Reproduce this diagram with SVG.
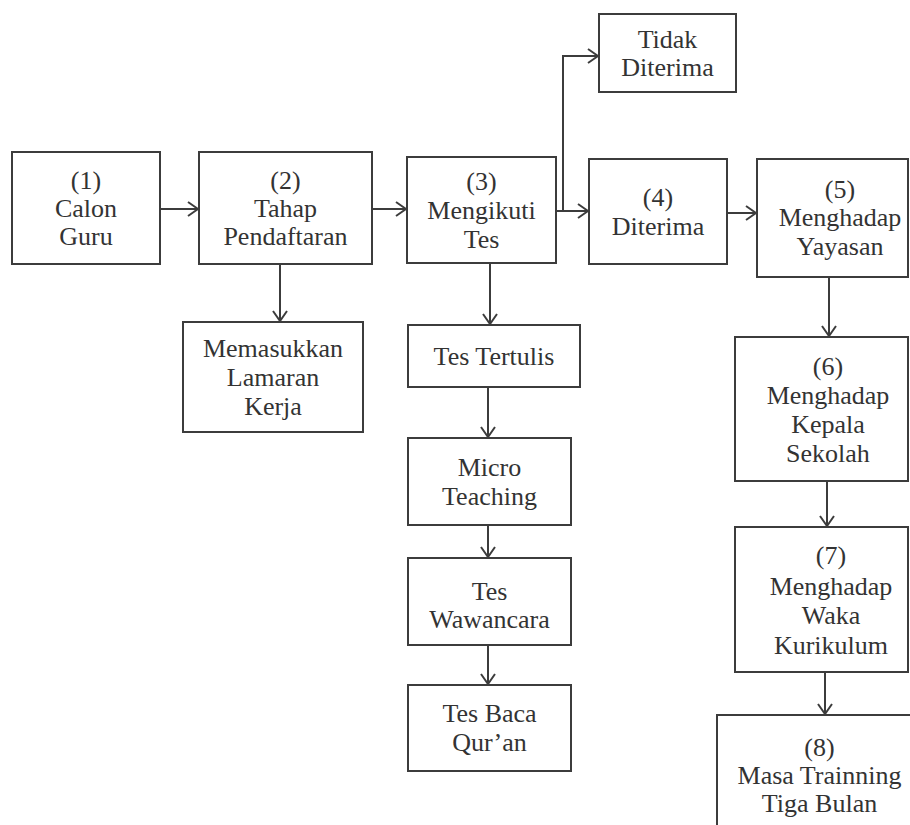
<svg xmlns="http://www.w3.org/2000/svg" width="910" height="825" viewBox="0 0 910 825">
<style>
.box{fill:#fff;stroke:#3c3c3c;stroke-width:2}
.t{font-family:"Liberation Serif","Times New Roman",serif;font-size:26px;fill:#333;text-anchor:middle}
.c{fill:none;stroke:#3c3c3c;stroke-width:2}
</style>
<defs>
<marker id="ah" viewBox="0 0 12 16" markerWidth="12" markerHeight="16" refX="11" refY="8" orient="auto" markerUnits="userSpaceOnUse">
<path d="M1,1 L11,8 L1,15" fill="none" stroke="#3c3c3c" stroke-width="2"/>
</marker>
</defs>
<rect width="910" height="825" fill="#fff"/>
<g id="connectors">
<path class="c" d="M160,209 H198" marker-end="url(#ah)"/>
<path class="c" d="M372,209 H406" marker-end="url(#ah)"/>
<path class="c" d="M556,211 H588" marker-end="url(#ah)"/>
<path class="c" d="M563,211 V56 H598" marker-end="url(#ah)"/>
<path class="c" d="M727,213 H756" marker-end="url(#ah)"/>
<path class="c" d="M280,264 V321" marker-end="url(#ah)"/>
<path class="c" d="M490,263 V324" marker-end="url(#ah)"/>
<path class="c" d="M488,387 V437" marker-end="url(#ah)"/>
<path class="c" d="M488,525 V557" marker-end="url(#ah)"/>
<path class="c" d="M488,645 V684" marker-end="url(#ah)"/>
<path class="c" d="M829,277 V336" marker-end="url(#ah)"/>
<path class="c" d="M827,481 V526" marker-end="url(#ah)"/>
<path class="c" d="M825,672 V714" marker-end="url(#ah)"/>
</g>
<g id="n1"><rect class="box" x="12" y="152" width="148" height="112"/>
<text class="t" x="86" y="189">(1)</text><text class="t" x="86" y="217">Calon</text><text class="t" x="86" y="245">Guru</text></g>
<g id="n2"><rect class="box" x="199" y="152" width="173" height="112"/>
<text class="t" x="285.5" y="189">(2)</text><text class="t" x="285.5" y="217">Tahap</text><text class="t" x="285.5" y="245">Pendaftaran</text></g>
<g id="n2a"><rect class="box" x="183" y="322" width="180" height="110"/>
<text class="t" x="273" y="357">Memasukkan</text><text class="t" x="273" y="386">Lamaran</text><text class="t" x="273" y="415">Kerja</text></g>
<g id="n3"><rect class="box" x="407" y="157" width="149" height="106"/>
<text class="t" x="481.5" y="190">(3)</text><text class="t" x="481.5" y="219">Mengikuti</text><text class="t" x="481.5" y="248">Tes</text></g>
<g id="ntidak"><rect class="box" x="599" y="14" width="137" height="78"/>
<text class="t" x="667.5" y="48">Tidak</text><text class="t" x="667.5" y="76">Diterima</text></g>
<g id="n4"><rect class="box" x="589" y="159" width="138" height="105"/>
<text class="t" x="658" y="206">(4)</text><text class="t" x="658" y="235">Diterima</text></g>
<g id="n5"><rect class="box" x="757" y="159" width="151" height="118"/>
<text class="t" x="840" y="198">(5)</text><text class="t" x="840" y="226">Menghadap</text><text class="t" x="840" y="255">Yayasan</text></g>
<g id="ntt"><rect class="box" x="408" y="325" width="172" height="62"/>
<text class="t" x="494" y="365">Tes Tertulis</text></g>
<g id="nmicro"><rect class="box" x="408" y="438" width="163" height="87"/>
<text class="t" x="489.5" y="476">Micro</text><text class="t" x="489.5" y="505">Teaching</text></g>
<g id="nwaw"><rect class="box" x="408" y="558" width="163" height="87"/>
<text class="t" x="489.5" y="600">Tes</text><text class="t" x="489.5" y="628">Wawancara</text></g>
<g id="nbaca"><rect class="box" x="408" y="685" width="163" height="86"/>
<text class="t" x="489.5" y="722">Tes Baca</text><text class="t" x="489.5" y="751">Qur’an</text></g>
<g id="n6"><rect class="box" x="735" y="337" width="173" height="144"/>
<text class="t" x="828" y="375">(6)</text><text class="t" x="828" y="404">Menghadap</text><text class="t" x="828" y="433">Kepala</text><text class="t" x="828" y="462">Sekolah</text></g>
<g id="n7"><rect class="box" x="735" y="527" width="173" height="145"/>
<text class="t" x="831" y="564">(7)</text><text class="t" x="831" y="595">Menghadap</text><text class="t" x="831" y="624">Waka</text><text class="t" x="831" y="654">Kurikulum</text></g>
<g id="n8"><rect class="box" x="717" y="715" width="205" height="120"/>
<text class="t" x="819.5" y="756">(8)</text><text class="t" x="819.5" y="784">Masa Trainning</text><text class="t" x="819.5" y="812">Tiga Bulan</text></g>
</svg>
